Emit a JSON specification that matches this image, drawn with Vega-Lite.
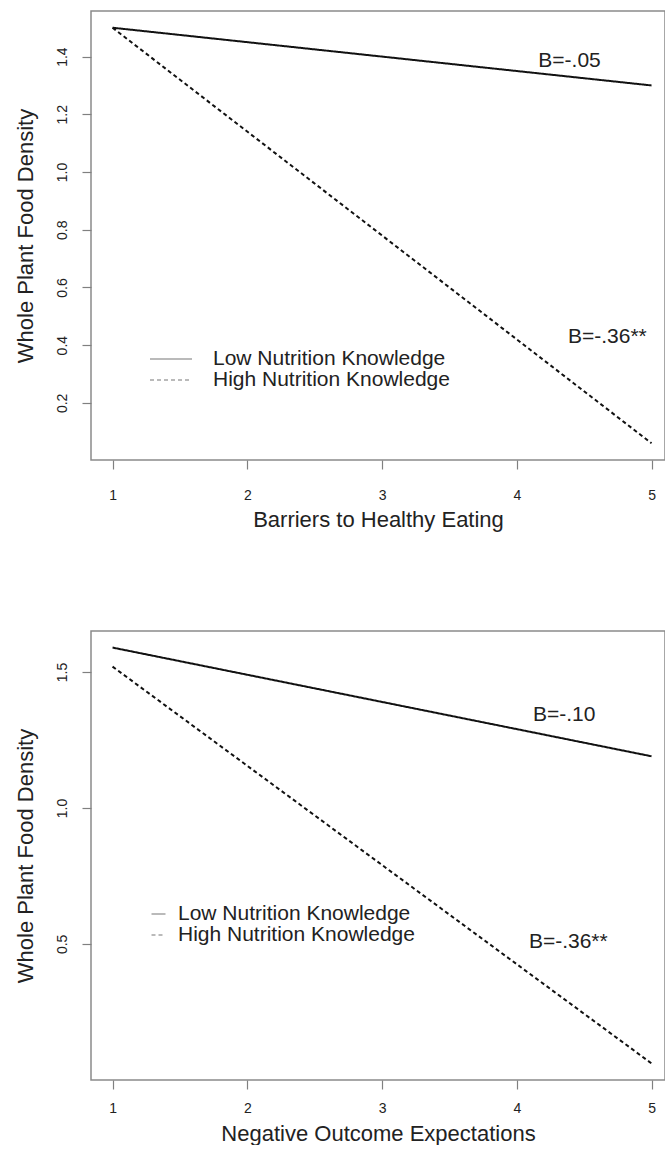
{
  "$schema": "https://vega.github.io/schema/vega-lite/v6.json",
  "padding": {"left": 13, "top": 10, "right": 0, "bottom": 0},
  "background": "white",
  "config": {
    "font": "Liberation Sans",
    "view": {"stroke": "#8a8a8a", "strokeWidth": 1.5},
    "axis": {"grid": false, "domain": false, "tickColor": "#808080", "tickSize": 9, "tickWidth": 1.2, "labelFont": "Liberation Sans", "labelFontSize": 14, "labelColor": "#222222", "titleFont": "Liberation Sans", "titleFontSize": 22, "titleFontWeight": "normal", "titleColor": "#222222"},
    "legend": {"padding": 0, "titleFontSize": 0},
    "concat": {"spacing": 99}
  },
  "datasets": {
    "lines1": [
      {"x": 1, "y": 1.50, "group": "Low Nutrition Knowledge"},
      {"x": 5, "y": 1.30, "group": "Low Nutrition Knowledge"},
      {"x": 1, "y": 1.50, "group": "High Nutrition Knowledge"},
      {"x": 5, "y": 0.06, "group": "High Nutrition Knowledge"}
    ],
    "notes1": [
      {"x": 4.16, "y": 1.386, "label": "B=-.05"},
      {"x": 4.38, "y": 0.427, "label": "B=-.36**"}
    ],
    "lines2": [
      {"x": 1, "y": 1.59, "group": "Low Nutrition Knowledge"},
      {"x": 5, "y": 1.19, "group": "Low Nutrition Knowledge"},
      {"x": 1, "y": 1.52, "group": "High Nutrition Knowledge"},
      {"x": 5, "y": 0.06, "group": "High Nutrition Knowledge"}
    ],
    "notes2": [
      {"x": 4.12, "y": 1.342, "label": "B=-.10"},
      {"x": 4.09, "y": 0.507, "label": "B=-.36**"}
    ]
  },
  "resolve": {"scale": {"x": "independent", "y": "independent", "strokeDash": "independent"}, "legend": {"strokeDash": "independent"}},
  "vconcat": [
    {
      "width": 574,
      "height": 449,
      "layer": [
        {
          "data": {"name": "lines1"},
          "mark": {"type": "line", "color": "#111111", "strokeWidth": 2},
          "encoding": {
            "x": {"field": "x", "type": "quantitative", "scale": {"domain": [0.84, 5.10], "nice": false, "zero": false}, "axis": {"values": [1, 2, 3, 4, 5], "format": "d", "title": "Barriers to Healthy Eating", "labelPadding": 19, "titlePadding": 7}},
            "y": {"field": "y", "type": "quantitative", "scale": {"domain": [0.002, 1.558], "nice": false, "zero": false}, "axis": {"values": [0.2, 0.4, 0.6, 0.8, 1.0, 1.2, 1.4], "format": ".1f", "labelAngle": -90, "labelAlign": "center", "labelBaseline": "bottom", "labelPadding": 13, "title": "Whole Plant Food Density", "titlePadding": 18}},
            "strokeDash": {"field": "group", "type": "nominal", "scale": {"domain": ["Low Nutrition Knowledge", "High Nutrition Knowledge"], "range": [[1, 0], [4, 3]]}, "legend": {"title": null, "orient": "none", "legendX": 58, "legendY": 338, "symbolType": "stroke", "symbolSize": 1764, "symbolStrokeColor": "#777777", "symbolStrokeWidth": 1.2, "labelFontSize": 21, "labelFont": "Liberation Sans", "labelColor": "#222222", "labelOffset": 20, "labelLimit": 0, "clipHeight": 20, "rowPadding": 0}}
          }
        },
        {
          "data": {"name": "notes1"},
          "mark": {"type": "text", "align": "left", "baseline": "middle", "fontSize": 21, "color": "#222222", "font": "Liberation Sans"},
          "encoding": {
            "x": {"field": "x", "type": "quantitative"},
            "y": {"field": "y", "type": "quantitative"},
            "text": {"field": "label", "type": "nominal"}
          }
        }
      ]
    },
    {
      "width": 574,
      "height": 449,
      "layer": [
        {
          "data": {"name": "lines2"},
          "mark": {"type": "line", "color": "#111111", "strokeWidth": 2},
          "encoding": {
            "x": {"field": "x", "type": "quantitative", "scale": {"domain": [0.84, 5.10], "nice": false, "zero": false}, "axis": {"values": [1, 2, 3, 4, 5], "format": "d", "title": "Negative Outcome Expectations", "labelPadding": 12, "titlePadding": 8}},
            "y": {"field": "y", "type": "quantitative", "scale": {"domain": [-0.001, 1.651], "nice": false, "zero": false}, "axis": {"values": [0.5, 1.0, 1.5], "format": ".1f", "labelAngle": -90, "labelAlign": "center", "labelBaseline": "bottom", "labelPadding": 13, "title": "Whole Plant Food Density", "titlePadding": 18}},
            "strokeDash": {"field": "group", "type": "nominal", "scale": {"domain": ["Low Nutrition Knowledge", "High Nutrition Knowledge"], "range": [[1, 0], [4, 3]]}, "legend": {"title": null, "orient": "none", "legendX": 57, "legendY": 273, "symbolType": "stroke", "symbolSize": 196, "symbolStrokeColor": "#777777", "symbolStrokeWidth": 1.2, "labelFontSize": 21, "labelFont": "Liberation Sans", "labelColor": "#222222", "labelOffset": 9, "labelLimit": 0, "clipHeight": 20, "rowPadding": 0}}
          }
        },
        {
          "data": {"name": "notes2"},
          "mark": {"type": "text", "align": "left", "baseline": "middle", "fontSize": 21, "color": "#222222", "font": "Liberation Sans"},
          "encoding": {
            "x": {"field": "x", "type": "quantitative"},
            "y": {"field": "y", "type": "quantitative"},
            "text": {"field": "label", "type": "nominal"}
          }
        }
      ]
    }
  ]
}
